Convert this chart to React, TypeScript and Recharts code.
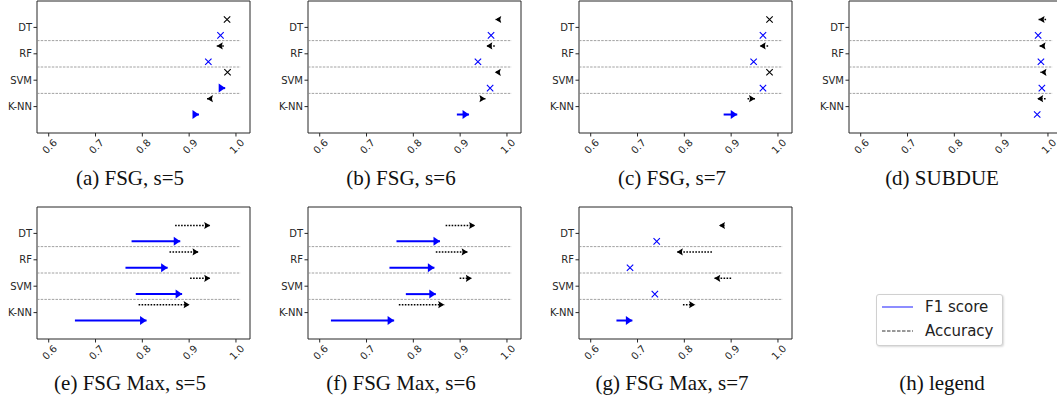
import React from 'react';
import { ScatterChart, Scatter, XAxis, YAxis, ReferenceLine, ReferenceArea } from 'recharts';

const classifiers = ['DT', 'RF', 'SVM', 'K-NN'];
const xTicks = [0.6, 0.7, 0.8, 0.9, 1.0];

// (a) FSG, s=5
const fsg5AccFrom = [0.981, 0.974, 0.982, 0.948];
const fsg5AccTo = [0.981, 0.959, 0.982, 0.938];
const fsg5F1From = [0.967, 0.941, 0.968, 0.910];
const fsg5F1To = [0.967, 0.941, 0.977, 0.921];

// (b) FSG, s=6
const fsg6AccFrom = [0.982, 0.974, 0.980, 0.945];
const fsg6AccTo = [0.975, 0.956, 0.974, 0.954];
const fsg6F1From = [0.966, 0.938, 0.964, 0.893];
const fsg6F1To = [0.966, 0.938, 0.964, 0.919];

// (c) FSG, s=7
const fsg7AccFrom = [0.982, 0.979, 0.982, 0.935];
const fsg7AccTo = [0.982, 0.961, 0.982, 0.951];
const fsg7F1From = [0.968, 0.948, 0.968, 0.884];
const fsg7F1To = [0.968, 0.948, 0.968, 0.913];

// (d) SUBDUE
const subdueAccFrom = [0.996, 0.992, 0.992, 0.995];
const subdueAccTo = [0.980, 0.982, 0.984, 0.977];
const subdueF1From = [0.979, 0.985, 0.987, 0.977];
const subdueF1To = [0.979, 0.985, 0.987, 0.977];

// (e) FSG Max, s=5
const max5AccFrom = [0.870, 0.858, 0.902, 0.792];
const max5AccTo = [0.945, 0.920, 0.945, 0.901];
const max5F1From = [0.777, 0.764, 0.786, 0.656];
const max5F1To = [0.881, 0.854, 0.885, 0.809];

// (f) FSG Max, s=6
const max6AccFrom = [0.869, 0.848, 0.899, 0.769];
const max6AccTo = [0.932, 0.916, 0.925, 0.866];
const max6F1From = [0.764, 0.749, 0.784, 0.624];
const max6F1To = [0.857, 0.845, 0.848, 0.759];

// (g) FSG Max, s=7
const max7AccFrom = [0.886, 0.859, 0.900, 0.797];
const max7AccTo = [0.874, 0.784, 0.864, 0.823];
const max7F1From = [0.741, 0.684, 0.737, 0.655];
const max7F1To = [0.741, 0.684, 0.737, 0.689];

const X_DOMAIN: [number, number] = [0.575, 1.03];
const Y_DOMAIN: [number, number] = [-1, 4];
const ACC_OFF = -0.3;
const F1_OFF = 0.3;
const TICK_FONT = 'DejaVu Sans, sans-serif';

const panels = [
  { title: '(a) FSG, s=5', left: 37, top: 1, af: fsg5AccFrom, at: fsg5AccTo, ff: fsg5F1From, ft: fsg5F1To },
  { title: '(b) FSG, s=6', left: 308, top: 1, af: fsg6AccFrom, at: fsg6AccTo, ff: fsg6F1From, ft: fsg6F1To },
  { title: '(c) FSG, s=7', left: 579, top: 1, af: fsg7AccFrom, at: fsg7AccTo, ff: fsg7F1From, ft: fsg7F1To },
  { title: '(d) SUBDUE', left: 849, top: 1, af: subdueAccFrom, at: subdueAccTo, ff: subdueF1From, ft: subdueF1To },
  { title: '(e) FSG Max, s=5', left: 37, top: 207, af: max5AccFrom, at: max5AccTo, ff: max5F1From, ft: max5F1To },
  { title: '(f) FSG Max, s=6', left: 308, top: 207, af: max6AccFrom, at: max6AccTo, ff: max6F1From, ft: max6F1To },
  { title: '(g) FSG Max, s=7', left: 579, top: 207, af: max7AccFrom, at: max7AccTo, ff: max7F1From, ft: max7F1To },
];

const RotTick = (props: any) => {
  const { x, y, payload } = props;
  return (
    <g transform={`translate(${x + 1},${y + 8}) rotate(-45)`}>
      <text textAnchor="middle" dominantBaseline="central" fontSize={10} fill="#262626" fontFamily={TICK_FONT}>
        {Number(payload.value).toFixed(1)}
      </text>
    </g>
  );
};

const makeHead = (color: string, len: number, half: number, notch: number) => (props: any) => {
  const { cx, cy, payload } = props;
  const d = payload.x - payload.from;
  if (Math.abs(d) < 1e-9) {
    const s = 3.2;
    return (
      <path
        d={`M${cx - s},${cy - s}L${cx + s},${cy + s}M${cx - s},${cy + s}L${cx + s},${cy - s}`}
        stroke={color}
        strokeWidth={1.1}
        fill="none"
      />
    );
  }
  const dir = d > 0 ? 1 : -1;
  const bx = cx - dir * len;
  return <polygon points={`${cx},${cy} ${bx},${cy - half} ${bx + dir * notch},${cy} ${bx},${cy + half}`} fill={color} />;
};

const accHead = makeHead('#000000', 6, 3.6, 1);
const f1Head = makeHead('#0000ff', 6.5, 4.5, 0);

function Panel({ p }: { p: (typeof panels)[number] }) {
  const accData = classifiers.map((c, i) => ({ name: c, x: p.at[i], y: i + ACC_OFF, from: p.af[i] }));
  const f1Data = classifiers.map((c, i) => ({ name: c, x: p.ft[i], y: i + F1_OFF, from: p.ff[i] }));
  return (
    <div style={{ position: 'absolute', left: p.left - 37, top: p.top - 1 }}>
      <ScatterChart width={260} height={170} margin={{ top: 1, right: 10, bottom: 0, left: 0 }}>
        <XAxis
          type="number"
          dataKey="x"
          domain={X_DOMAIN}
          ticks={xTicks}
          allowDataOverflow
          tick={<RotTick />}
          tickSize={3.5}
          tickMargin={2}
          axisLine={false}
          tickLine={{ stroke: '#262626' }}
          height={37}
        />
        <YAxis
          type="number"
          dataKey="y"
          domain={Y_DOMAIN}
          reversed
          allowDataOverflow
          ticks={[0, 1, 2, 3]}
          tickFormatter={(v: number) => classifiers[v]}
          tick={{ fontSize: 10, fill: '#262626', fontFamily: TICK_FONT }}
          tickSize={3.5}
          tickMargin={1.5}
          axisLine={false}
          tickLine={{ stroke: '#262626' }}
          width={37}
        />
        {[0.5, 1.5, 2.5].map((y) => (
          <ReferenceLine
            key={y}
            segment={[{ x: X_DOMAIN[0], y }, { x: 1.01, y }]}
            stroke="#8a8a8a"
            strokeWidth={0.8}
            strokeDasharray="2.5 1.2"
          />
        ))}
        {accData.map((d) =>
          d.x !== d.from ? (
            <ReferenceLine
              key={'a' + d.name}
              segment={[{ x: d.from, y: d.y }, { x: d.x, y: d.y }]}
              stroke="#000"
              strokeWidth={1.5}
              strokeDasharray="1.6 1.4"
            />
          ) : null
        )}
        {f1Data.map((d) =>
          d.x !== d.from ? (
            <ReferenceLine
              key={'f' + d.name}
              segment={[{ x: d.from, y: d.y }, { x: d.x, y: d.y }]}
              stroke="#0000ff"
              strokeWidth={2}
            />
          ) : null
        )}
        <Scatter data={accData} shape={accHead} isAnimationActive={false} />
        <Scatter data={f1Data} shape={f1Head} isAnimationActive={false} />
        <ReferenceArea
          x1={X_DOMAIN[0]}
          x2={X_DOMAIN[1]}
          y1={Y_DOMAIN[0]}
          y2={Y_DOMAIN[1]}
          fill="none"
          stroke="#262626"
          strokeWidth={1}
          fillOpacity={0}
        />
      </ScatterChart>
    </div>
  );
}

const captionStyle: React.CSSProperties = {
  position: 'absolute',
  width: 240,
  textAlign: 'center',
  fontFamily: '"Liberation Serif", "Times New Roman", serif',
  fontSize: 21,
  lineHeight: '22px',
  color: '#111',
  whiteSpace: 'nowrap',
};

export default function App() {
  return (
    <div style={{ position: 'absolute', left: 0, top: 0, width: 1057, height: 402, overflow: 'hidden', background: '#fff' }}>
      {panels.map((p) => (
        <Panel key={p.title} p={p} />
      ))}
      {panels.map((p) => (
        <div key={'c' + p.title} style={{ ...captionStyle, left: p.left + 93 - 120, top: (p.top === 1 ? 178 : 383) - 11 }}>
          {p.title}
        </div>
      ))}
      <div
        style={{
          position: 'absolute',
          left: 876,
          top: 294,
          width: 125,
          height: 50,
          border: '1px solid #d0d0d0',
          borderRadius: 3,
          boxShadow: '1px 1px 2px rgba(0,0,0,0.15)',
          background: '#fff',
        }}
      >
        <svg width={125} height={50} style={{ position: 'absolute', left: 0, top: 0 }}>
          <line x1={5} x2={36} y1={12} y2={12} stroke="#4040ff" strokeWidth={1.2} />
          <line x1={5} x2={36} y1={36} y2={36} stroke="#333" strokeWidth={1} strokeDasharray="3.5 1.5" />
          <text x={48} y={12} dominantBaseline="central" fontSize={15} fontFamily={TICK_FONT} fill="#222">
            F1 score
          </text>
          <text x={48} y={36} dominantBaseline="central" fontSize={15} fontFamily={TICK_FONT} fill="#222">
            Accuracy
          </text>
        </svg>
      </div>
      <div style={{ ...captionStyle, left: 942 - 120, top: 383 - 11 }}>(h) legend</div>
    </div>
  );
}
